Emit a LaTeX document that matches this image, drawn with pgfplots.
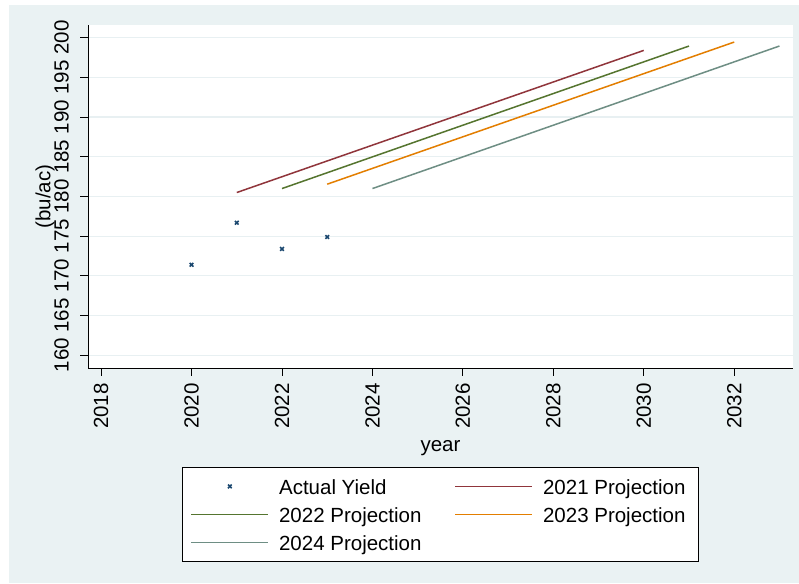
\documentclass[border=0pt]{standalone}
\usepackage{pgfplots}
\pgfplotsset{compat=1.18}
\usepackage{fontspec}
\setmainfont{Liberation Sans}
\definecolor{bgc}{RGB}{234,242,243}
\definecolor{gridc}{RGB}{232,240,242}
\definecolor{snavy}{RGB}{26,71,111}
\definecolor{smaroon}{RGB}{144,53,59}
\definecolor{sgreen}{RGB}{85,117,47}
\definecolor{sorange}{RGB}{227,126,0}
\definecolor{steal}{RGB}{110,142,132}
\newcommand{\bigf}{\fontsize{20.5bp}{24bp}\selectfont}
\pgfplotsset{
  markleg/.style={legend image code/.code={\path (0bp,0bp) (77bp,0bp); \draw[##1] plot[only marks] coordinates {(38.5bp,0bp)};}},
  lineleg/.style={legend image code/.code={\draw[##1] (0bp,0bp) -- (77bp,0bp);}},
}
\begin{document}
\begin{tikzpicture}[x=1bp,y=1bp]
\path[use as bounding box, fill=white] (0,0) rectangle (799,584);
\fill[bgc] (9,1) rectangle (799,579);
\begin{axis}[
  at={(88bp,216bp)}, anchor=south west,
  scale only axis, width=705bp, height=343bp,
  xmin=2017.71, xmax=2033.3, ymin=158.4, ymax=201.6,
  axis x line*=bottom, axis y line*=left,
  axis line style={black, line width=0.8bp, -},
  axis background/.style={fill=white},
  xtick={2018,2020,...,2032},
  ytick={160,165,...,200},
  tick align=outside, major tick length=8bp,
  tick style={black, line width=0.8bp},
  /pgf/number format/1000 sep={},
  /pgf/number format/assume math mode=true,
  tick label style={font=\bigf},
  xticklabel style={rotate=90, anchor=east, inner sep=3bp},
  yticklabel style={rotate=90, anchor=south, inner sep=3bp},
  xticklabel shift={4bp},
  yticklabel shift={8bp},
  ymajorgrids, grid style={gridc, line width=1.2bp},
  xlabel={year}, ylabel={(bu/ac)},
  every axis x label/.style={at={(rel axis cs:0.5,0)}, yshift=-80bp, anchor=center, font=\bigf},
  every axis y label/.style={at={(rel axis cs:0,0.5)}, xshift=-43bp, rotate=90, anchor=center, font=\bigf},
  legend columns=2,
  legend cell align=left,
  legend style={at={(0.5,-0.2886)}, anchor=north, draw=black, line width=0.8bp, fill=white,
    font=\bigf, inner xsep=8bp, inner ysep=5bp,
    nodes={inner xsep=5bp, inner ysep=5bp, text height=17bp, text depth=1bp},
    /tikz/every odd column/.append style={column sep=5bp},
    /tikz/every even column/.append style={column sep=28bp}},
  lineleg,
]
\addplot[only marks, mark=x, mark size=2.6bp, snavy, line width=1.6bp, markleg]
  coordinates {(2020,171.4) (2021,176.7) (2022,173.4) (2023,174.9)};
\addlegendentry{Actual Yield}
\addplot[smaroon, line width=1.5bp] coordinates {(2021,180.5) (2030,198.4)};
\addlegendentry{2021 Projection}
\addplot[sgreen, line width=1.5bp] coordinates {(2022,181.0) (2031,198.95)};
\addlegendentry{2022 Projection}
\addplot[sorange, line width=1.5bp] coordinates {(2023,181.55) (2032,199.45)};
\addlegendentry{2023 Projection}
\addplot[steal, line width=1.5bp] coordinates {(2024,181.0) (2033,198.95)};
\addlegendentry{2024 Projection}
\end{axis}
\end{tikzpicture}
\end{document}
